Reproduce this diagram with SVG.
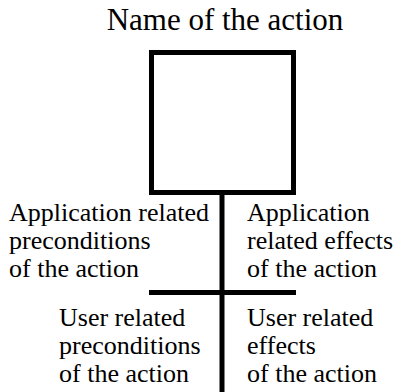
<svg xmlns="http://www.w3.org/2000/svg" width="394" height="392" viewBox="0 0 394 392">
<style>
.lbl{font-size:26px}
.ttl{font-size:31px}
.ln{stroke:#000;stroke-width:5;fill:none}
</style>
<rect width="394" height="392" fill="#fff"/>
<g font-family="Liberation Serif, Times New Roman, Times, serif" fill="#000">
<g id="action">
<text class="ttl" x="225" y="30" text-anchor="middle">Name of the action</text>
<rect class="ln" x="151.5" y="52.5" width="142" height="140"/>
</g>
<g id="connectors">
<line class="ln" x1="222" y1="193" x2="222" y2="392"/>
<line class="ln" x1="149" y1="292.5" x2="296" y2="292.5"/>
</g>
<g id="app-pre">
<text class="lbl" x="9" y="221">Application related</text>
<text class="lbl" x="9" y="249">preconditions</text>
<text class="lbl" x="9" y="277">of the action</text>
</g>
<g id="app-eff">
<text class="lbl" x="247" y="221">Application</text>
<text class="lbl" x="247" y="249">related effects</text>
<text class="lbl" x="247" y="277">of the action</text>
</g>
<g id="user-pre">
<text class="lbl" x="59" y="326">User related</text>
<text class="lbl" x="59" y="354">preconditions</text>
<text class="lbl" x="59" y="382">of the action</text>
</g>
<g id="user-eff">
<text class="lbl" x="247" y="326">User related</text>
<text class="lbl" x="247" y="354">effects</text>
<text class="lbl" x="247" y="382">of the action</text>
</g>
</g>
</svg>
